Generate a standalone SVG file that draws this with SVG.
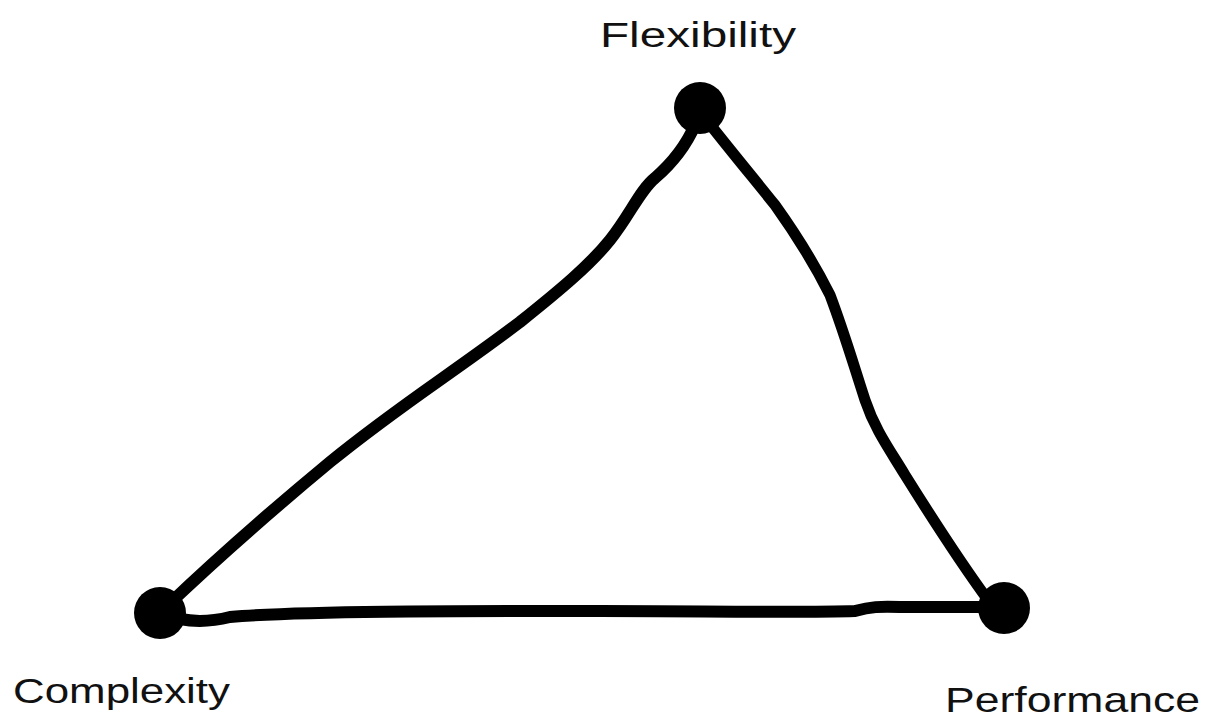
<svg xmlns="http://www.w3.org/2000/svg" width="1207" height="719" viewBox="0 0 1207 719">
<style>
.edge{fill:none;stroke:#000;stroke-linecap:round;stroke-linejoin:round}
.dot{fill:#000}
.lbl{font-family:"Liberation Sans","DejaVu Sans",sans-serif;font-size:35px;fill:#111}
</style>
<rect width="1207" height="719" fill="#fff"/>
<g id="connectors">
<path class="edge" stroke-width="12" d="M168,605 C210,565 260,520 330,462 C400,405 450,375 520,322 C560,290 590,265 610,240 C630,215 640,190 655,178 C670,165 685,148 695,125"/>
<path class="edge" stroke-width="11" d="M705,118 C730,150 755,180 775,205 C800,240 815,265 830,295 C845,335 852,360 865,400 C875,430 890,450 905,475 C930,515 955,555 988,600"/>
<path class="edge" stroke-width="12" d="M180,619 C195,622 210,622 230,617 C300,611 450,611 600,611 C700,611 800,613 855,611 C870,607 880,606 900,607 C930,607 960,607 985,607"/>
</g>
<g id="node-flexibility">
<circle class="dot" cx="700" cy="108" r="26"/>
<text class="lbl" x="600" y="47" textLength="196" lengthAdjust="spacingAndGlyphs">Flexibility</text>
</g>
<g id="node-complexity">
<circle class="dot" cx="160" cy="613" r="26"/>
<text class="lbl" x="13" y="703" textLength="217" lengthAdjust="spacingAndGlyphs">Complexity</text>
</g>
<g id="node-performance">
<circle class="dot" cx="1004" cy="608" r="26"/>
<text class="lbl" x="945" y="712" textLength="255" lengthAdjust="spacingAndGlyphs">Performance</text>
</g>
</svg>
